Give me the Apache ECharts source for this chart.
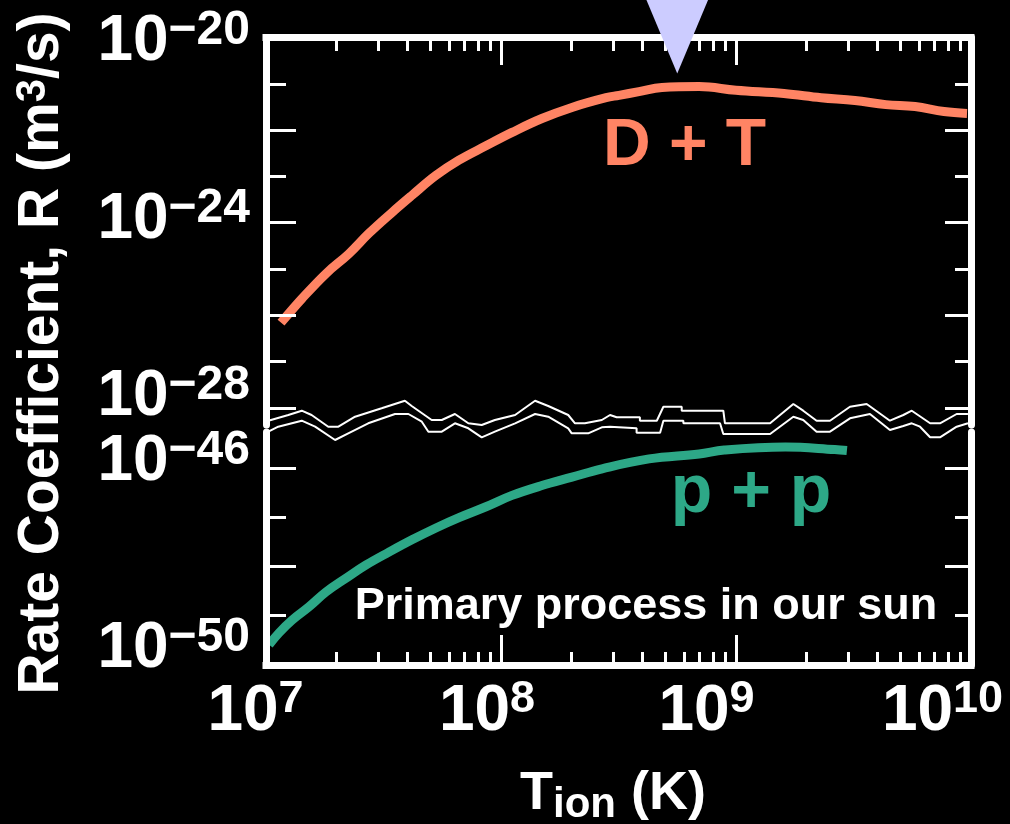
<!DOCTYPE html>
<html>
<head>
<meta charset="utf-8">
<script src="https://cdn.jsdelivr.net/npm/echarts@6/dist/echarts.min.js"></script>
<style>
html,body{margin:0;padding:0;background:#000;}
#c{width:1010px;height:824px;}
</style>
</head>
<body>
<div id="c"></div>
<script>
// ---------------- DATA (log10 values) ----------------
// D + T rate coefficient: log10(T / K) and log10(R / (m^3/s))
const dtLogT = [7.064, 7.153, 7.255, 7.353, 7.438, 7.536, 7.621, 7.723, 7.821, 7.936, 8.047, 8.174, 8.302, 8.447, 8.502, 8.587, 8.685, 8.843, 9.000, 9.204, 9.362, 9.506, 9.638, 9.762, 9.885, 9.983];
const dtLogR = [-26.16, -25.64, -25.10, -24.67, -24.23, -23.78, -23.41, -22.98, -22.65, -22.34, -22.05, -21.75, -21.51, -21.30, -21.25, -21.17, -21.08, -21.06, -21.14, -21.21, -21.30, -21.36, -21.45, -21.49, -21.60, -21.64];
// p + p rate coefficient
const ppLogT = [7.013, 7.055, 7.111, 7.183, 7.255, 7.340, 7.426, 7.523, 7.621, 7.723, 7.821, 7.936, 8.047, 8.174, 8.302, 8.430, 8.630, 8.843, 8.950, 9.210, 9.420, 9.472];
const ppLogR = [-49.59, -49.35, -49.09, -48.82, -48.52, -48.24, -47.97, -47.71, -47.46, -47.22, -47.01, -46.79, -46.56, -46.36, -46.19, -46.02, -45.82, -45.72, -45.64, -45.58, -45.63, -45.65];
// peak marker (temperature of the D+T maximum)
const markerLogT = [8.75];

// tick exponents
const xTickExps = [7, 8, 9, 10];
const xMajorExps = [8, 9];
const topLabelExps = [-20, -24, -28];
const topMajorExps = [-22, -24, -26, -28];
const topMinorExps = [-21, -23, -25, -27];
const botLabelExps = [-46, -50];
const botMajorExps = [-46, -48];
const botMinorExps = [-47, -49];

// axis-break zigzag (x: log10 T, y: offset inside the break band)
const breakUpperT = [7.010, 7.095, 7.152, 7.194, 7.265, 7.308, 7.379, 7.492, 7.535, 7.591, 7.620, 7.705, 7.748, 7.804, 7.861, 7.918, 7.974, 8.060, 8.145, 8.201, 8.286, 8.315, 8.357, 8.429, 8.464, 8.492, 8.591, 8.591, 8.663, 8.691, 8.769, 8.769, 8.946, 8.953, 9.145, 9.244, 9.286, 9.343, 9.400, 9.485, 9.556, 9.655, 9.712, 9.748, 9.826, 9.868, 9.939, 9.987];
const breakUpperY = [30.7, 25, 20.7, 25, 36.7, 36.7, 26.7, 18.3, 15, 10.7, 16, 30, 30, 24, 33.3, 35, 30, 25, 10.7, 16, 25, 33.3, 33.3, 30, 25, 27.3, 27.3, 30.7, 30.7, 16.7, 16.7, 20.7, 20.7, 33.3, 33.3, 14, 20.7, 30.7, 30.7, 16.7, 14, 30.7, 25, 20.7, 33.3, 33.3, 24, 24];
const breakLowerT = [7.010, 7.052, 7.152, 7.209, 7.294, 7.350, 7.435, 7.549, 7.606, 7.663, 7.691, 7.748, 7.804, 7.861, 7.918, 7.974, 8.060, 8.145, 8.201, 8.286, 8.301, 8.371, 8.429, 8.464, 8.577, 8.577, 8.677, 8.691, 8.776, 8.776, 8.932, 8.946, 9.145, 9.244, 9.286, 9.343, 9.400, 9.485, 9.570, 9.655, 9.712, 9.748, 9.783, 9.826, 9.868, 9.939, 9.987];
const breakLowerY = [41.7, 36.7, 30.7, 36.7, 50, 43.3, 33.3, 24, 24, 31.7, 41.7, 41.7, 33.3, 38.3, 47.3, 41.7, 33.3, 24, 26.7, 38.3, 43.3, 43.3, 37.3, 36.7, 38.3, 42.7, 42.7, 30.7, 30.7, 33.3, 33.3, 44, 44, 26.7, 30, 41.7, 41.7, 28.3, 24, 40, 36, 33.3, 36.7, 47.3, 47.3, 36.7, 33.3];

// texts
const dtName = 'D + T';
const ppName = 'p + p';
const noteText = 'Primary process in our sun';

// ---------------- STYLE / LAYOUT ----------------
const FONT = 'Liberation Sans';
const WHITE = '#ffffff';
const ORANGE = '#ff8464';
const GREEN = '#2da887';
const LAVENDER = '#ccccff';
const G_LEFT = 266, G_WIDTH = 705;
const TOP_TOP = 37.5, TOP_H = 387.5, TOP_DECADE = 46.3;
const BOT_TOP = 432, BOT_H = 233, BOT_DECADE = 49.3;
const topMin = 20, topMax = 20 + TOP_H / TOP_DECADE;      // axis in -log10 R (inverted)
const botMin = -50, botMax = -50 + BOT_H / BOT_DECADE;    // axis in log10 R
const topLabelNudge = [0.11, -0.045, -0.223];
const botLabelNudge = [0.106, 0.312];
const xLabelSpacer = [21, 28, 59, 57];

const xMinorVals = [];
[7, 8, 9].forEach(n => { for (let k = 2; k <= 9; k++) xMinorVals.push(n + Math.log10(k)); });

const lineW = {color: WHITE, width: 7};
const tickW = {color: WHITE, width: 3};
const MINUS = '\u2212';

const yRich = {
  b: {fontSize: 64, lineHeight: 72, fontWeight: 'bold', fontFamily: FONT, color: WHITE},
  s: {fontSize: 48, lineHeight: 40, verticalAlign: 'top', fontWeight: 'bold', fontFamily: FONT, color: WHITE}
};
const xRich = {
  b: {fontSize: 64, lineHeight: 72, fontWeight: 'bold', fontFamily: FONT, color: WHITE},
  s: {fontSize: 45, lineHeight: 45, verticalAlign: 'top', fontWeight: 'bold', fontFamily: FONT, color: WHITE}
};
xLabelSpacer.forEach((w, i) => { xRich['g' + i] = {width: w, lineHeight: 10}; });

function axis(extra) {
  return Object.assign({
    type: 'value', z: 5,
    splitLine: {show: false},
    axisLabel: {show: false},
    axisTick: {show: false},
    axisLine: {show: false}
  }, extra);
}

function yPair(grid, pos, min, max, inverse, minorVals, majorVals, shortLen, longLen, label) {
  return [
    axis({gridIndex: grid, position: pos, min: min, max: max, inverse: inverse,
      axisLine: {show: true, onZero: false, lineStyle: lineW},
      axisTick: {show: true, inside: true, length: shortLen, customValues: minorVals, lineStyle: tickW},
      axisLabel: label || {show: false}}),
    axis({gridIndex: grid, position: pos, min: min, max: max, inverse: inverse,
      axisTick: {show: true, inside: true, length: longLen, customValues: majorVals, lineStyle: tickW}})
  ];
}

const topLabel = {
  show: true, margin: 16, rich: yRich,
  customValues: topLabelExps.map((e, i) => -e + topLabelNudge[i]),
  formatter: v => '{b|10}{s|' + MINUS + Math.abs(Math.round(v)) + '}'
};
const botLabel = {
  show: true, margin: 16, rich: yRich,
  customValues: botLabelExps.map((e, i) => e + botLabelNudge[i]),
  formatter: v => '{b|10}{s|' + MINUS + Math.abs(Math.round(v)) + '}'
};
const xLabel = {
  show: true, margin: 11.6, rich: xRich,
  customValues: xTickExps.slice(),
  formatter: v => {
    const e = Math.round(v);
    const i = xTickExps.indexOf(e);
    return '{b|10}{s|' + e + '}{g' + i + '|}';
  }
};

const yAxes = [].concat(
  yPair(0, 'left', topMin, topMax, true, topMinorExps.map(e => -e), topMajorExps.map(e => -e), 20, 30, topLabel),
  yPair(0, 'right', topMin, topMax, true, topMinorExps.map(e => -e), topMajorExps.map(e => -e), 16, 26, null),
  yPair(1, 'left', botMin, botMax, false, botMinorExps, botMajorExps, 20, 30, botLabel),
  yPair(1, 'right', botMin, botMax, false, botMinorExps, botMajorExps, 16, 26, null),
  [axis({gridIndex: 2, show: false, min: 0, max: 60, inverse: true})]
);

const xAxes = [
  axis({gridIndex: 0, position: 'top', min: 7, max: 10,
    axisLine: {show: true, onZero: false, lineStyle: Object.assign({cap: 'square'}, lineW)},
    axisTick: {show: true, inside: true, length: 13.5, customValues: xMinorVals, lineStyle: tickW}}),
  axis({gridIndex: 0, position: 'top', min: 7, max: 10,
    axisTick: {show: true, inside: true, length: 27.5, customValues: xMajorExps, lineStyle: tickW}}),
  axis({gridIndex: 1, position: 'bottom', min: 7, max: 10,
    axisLine: {show: true, onZero: false, lineStyle: Object.assign({cap: 'square'}, lineW)},
    axisTick: {show: true, inside: true, length: 13, customValues: xMinorVals, lineStyle: tickW},
    axisLabel: xLabel}),
  axis({gridIndex: 1, position: 'bottom', min: 7, max: 10,
    axisTick: {show: true, inside: true, length: 30, customValues: xMajorExps, lineStyle: tickW}}),
  axis({gridIndex: 2, show: false, min: 7, max: 10})
];

const zip = (a, b, f) => a.map((v, i) => [v, f ? f(b[i]) : b[i]]);

const option = {
  backgroundColor: '#000000',
  animation: false,
  grid: [
    {left: G_LEFT, top: TOP_TOP, width: G_WIDTH, height: TOP_H, outerBoundsMode: 'none'},
    {left: G_LEFT, top: BOT_TOP, width: G_WIDTH, height: BOT_H, outerBoundsMode: 'none'},
    {left: G_LEFT, top: 390, width: G_WIDTH, height: 60, outerBoundsMode: 'none'}
  ],
  xAxis: xAxes,
  yAxis: yAxes,
  series: [
    {name: dtName, type: 'line', xAxisIndex: 0, yAxisIndex: 0, z: 2,
      data: zip(dtLogT, dtLogR, r => -r), symbol: 'none', smooth: 0.4,
      lineStyle: {color: ORANGE, width: 9, cap: 'butt', join: 'round'}},
    {name: ppName, type: 'line', xAxisIndex: 2, yAxisIndex: 4, z: 2,
      data: zip(ppLogT, ppLogR), symbol: 'none', smooth: 0.4,
      lineStyle: {color: GREEN, width: 9, cap: 'butt', join: 'round'}},
    {type: 'scatter', xAxisIndex: 0, yAxisIndex: 0, z: 10, clip: false, silent: true,
      data: markerLogT.map(t => [t, topMin]),
      symbol: 'triangle', symbolSize: [62, 74], symbolRotate: 180, symbolOffset: [0, -1],
      itemStyle: {color: LAVENDER, opacity: 1}},
    {type: 'line', xAxisIndex: 4, yAxisIndex: 8, z: 6, clip: false, silent: true,
      data: zip(breakUpperT, breakUpperY), symbol: 'none',
      lineStyle: {color: WHITE, width: 2}},
    {type: 'line', xAxisIndex: 4, yAxisIndex: 8, z: 6, clip: false, silent: true,
      data: zip(breakLowerT, breakLowerY), symbol: 'none',
      lineStyle: {color: WHITE, width: 2}}
  ],
  graphic: [
    {type: 'text', x: 684.5, y: 146.9, z: 20,
      style: {text: dtName, fill: ORANGE, font: 'bold 66px "' + FONT + '"', align: 'center', verticalAlign: 'middle'}},
    {type: 'text', x: 751, y: 493.2, z: 20,
      style: {text: ppName, fill: GREEN, font: 'bold 68px "' + FONT + '"', align: 'center', verticalAlign: 'middle'}},
    {type: 'text', x: 646, y: 606.3, z: 20,
      style: {text: noteText, fill: WHITE, font: 'bold 45px "' + FONT + '"', align: 'center', verticalAlign: 'middle'}},
    {type: 'text', x: 613, y: 805.1, z: 20,
      style: {text: '{m|T}{sub|ion}{m| (K)}', align: 'center', verticalAlign: 'middle',
        rich: {
          m: {fontSize: 54, fontWeight: 'bold', fontFamily: FONT, fill: WHITE, lineHeight: 21, verticalAlign: 'top'},
          sub: {fontSize: 42, fontWeight: 'bold', fontFamily: FONT, fill: WHITE, lineHeight: 75}
        }}},
    {type: 'text', x: 42, y: 353.5, rotation: Math.PI / 2, z: 20,
      style: {text: '{m|Rate Coefficient, R (m}{sup|3}{m|/s)}', align: 'center', verticalAlign: 'middle',
        rich: {
          m: {fontSize: 57, fontWeight: 'bold', fontFamily: FONT, fill: WHITE, lineHeight: 60},
          sup: {fontSize: 42, fontWeight: 'bold', fontFamily: FONT, fill: WHITE, lineHeight: 35, verticalAlign: 'top'}
        }}}
  ]
};

const chart = echarts.init(document.getElementById('c'), null, {renderer: 'canvas', width: 1010, height: 824});
chart.setOption(option);
</script>
</body>
</html>
